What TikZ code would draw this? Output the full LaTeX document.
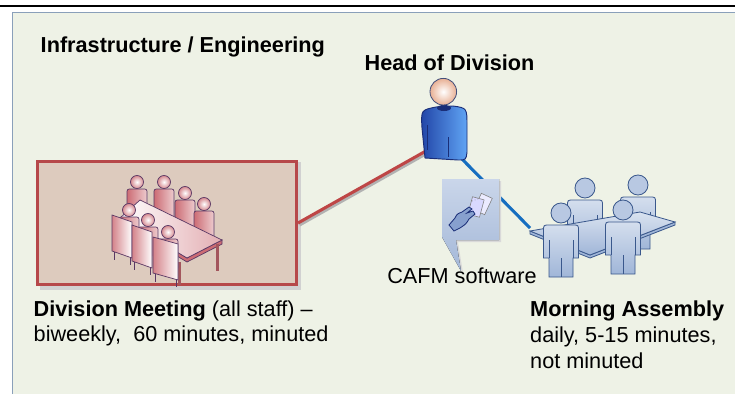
\documentclass[tikz,border=0pt]{standalone}
\usepackage{fontspec}
\setmainfont{Liberation Sans}
\definecolor{panel}{RGB}{238,242,230}
\definecolor{panelrule}{RGB}{138,160,186}
\definecolor{meetred}{RGB}{182,72,74}
\definecolor{meetfill}{RGB}{221,203,190}
\definecolor{linkred}{RGB}{190,70,70}
\definecolor{linkblue}{RGB}{22,110,192}
\definecolor{staffblue}{RGB}{160,182,216}
\definecolor{staffline}{RGB}{58,88,140}
\definecolor{headdark}{RGB}{34,70,168}
\definecolor{headlight}{RGB}{96,164,244}
\definecolor{headline}{RGB}{26,46,120}
\definecolor{skin}{RGB}{232,176,148}
\definecolor{rosy}{RGB}{204,108,116}
\definecolor{rosyline}{RGB}{90,56,100}
\definecolor{tiptop}{RGB}{202,214,234}
\definecolor{tipbottom}{RGB}{164,184,216}

% standing staff member, head centre at (#1,#2)
\newcommand{\standing}[2]{%
  \begin{scope}[shift={(#1,#2)}]
    \draw[staffline,line width=0.7pt,top color=staffblue!45!white,bottom color=staffblue]
      (-12,64) -- (-12,45) -- (-17.5,45) -- (-17.5,18) .. controls (-17.5,12) .. (-11.5,12)
      -- (11.5,12) .. controls (17.5,12) .. (17.5,18) -- (17.5,45) -- (12,45) -- (12,64) -- cycle;
    \draw[staffline,line width=0.7pt] (0,45) -- (0,64) (-12,27) -- (-12,45) (12,27) -- (12,45);
    \draw[staffline,line width=0.7pt,fill=staffblue!75!white] (0,0) circle[radius=10];
  \end{scope}}

% seated person at the meeting table, head centre at (#1,#2)
\newcommand{\sitter}[2]{%
  \begin{scope}[shift={(#1,#2)}]
    \draw[rosyline,line width=0.6pt,left color=rosy,right color=rosy!35!white]
      (-10,36) -- (-10,12) .. controls (-10,7) .. (-5,7) -- (5,7) .. controls (10,7) .. (10,12) -- (10,36);
    \draw[rosyline,line width=0.6pt,inner color=white,outer color=rosy!80!white] (0,0) circle[radius=6.5];
  \end{scope}}

\begin{document}
\begin{tikzpicture}[x=0.03cm,y=-0.03cm,
  lbl/.style={font=\fontsize{18.5}{21.8}\selectfont,inner sep=0pt},
  link/.style={line width=2.6pt}]
  \useasboundingbox (0,0) rectangle (735,394);

  % page rule and panel
  \draw[line width=1.7pt] (0,5.7) -- (735,5.7);
  \fill[panel] (12,12) rectangle (735,394);
  \draw[panelrule,line width=1.3pt] (12.5,394) -- (12.5,12.5) -- (735,12.5);

  % division meeting box
  \fill[black!18] (40,162) rectangle (300.5,289.5);
  \node[draw=meetred,fill=meetfill,line width=2.6pt,minimum width=7.77cm,minimum height=3.69cm,inner sep=0pt] (divmeet) at (167,223) {};

  \coordinate (hodin) at (433,147);
  \coordinate (hodout) at (459,156);
  \coordinate (tablecorner) at (530,228);

  % reporting lines
  \draw[black!30,link] ([shift={(1.5,2)}]divmeet.east) -- ([shift={(1.5,2)}]hodin);
  \draw[linkred,link] (divmeet.east) -- (hodin);
  \draw[linkblue,link] (hodout) -- (tablecorner);

  % head of division
  \draw[headline,line width=0.8pt,left color=headdark,right color=headlight]
    (425,158) -- (422,128) .. controls (421,110) .. (436,107) -- (453,106)
    .. controls (467,108) .. (467,126) -- (467,152) .. controls (466,160) .. (458,160) -- cycle;
  \draw[headline,line width=0.8pt] (427.7,125) -- (427.7,150) (448.3,137) -- (448.3,157);
  \fill[headline] (444,108) ellipse (7 and 3);
  \draw[headline!60!gray,line width=0.7pt,inner color=white,outer color=skin] (443.3,91.7) circle[radius=13.3];

  % meeting table with staff
  \sitter{137}{182}
  \sitter{164}{182}
  \sitter{185}{193}
  \sitter{204}{204}
  \draw[rosyline,line width=0.6pt,fill=rosy] (120,218) -- (187,258) -- (222,240) -- (222,244) -- (187,262) -- (120,222) -- cycle;
  \draw[rosyline,line width=0.6pt,left color=white,right color=rosy!55!white] (140,200) -- (222,240) -- (187,258) -- (120,218) -- cycle;
  \fill[rosy!80!black] (216,244) rectangle (219,271);
  \fill[rosy!80!black] (178,262) rectangle (181,285);
  \sitter{129}{210}
  \sitter{148}{220}
  \sitter{168}{232}
  \foreach \cx/\cy/\cw/\ch in {112/215/20/36,132/225/20/36,153/237/25/36}{
    \draw[rosyline,line width=0.6pt] (\cx+2,\cy+\ch) -- (\cx+2,\cy+\ch+9) (\cx+\cw-2,\cy+\ch+6) -- (\cx+\cw-2,\cy+\ch+14);
    \draw[rosyline,line width=0.6pt,left color=rosy!85!white,right color=white]
      (\cx,\cy) -- (\cx+\cw,\cy+7) -- (\cx+\cw,\cy+7+\ch) -- (\cx,\cy+\ch) -- cycle;
  }

  % CAFM callout
  \fill[black!15] (444,181) -- (501,181) -- (501,242) -- (458,242) -- (463,273) -- (444,239) -- cycle;
  \fill[top color=tiptop,bottom color=tipbottom] (442,179) -- (499,179) -- (499,240) -- (456,240) -- (461,271) -- (442,237) -- cycle;
  \draw[black!50,line width=0.5pt,fill=white!92!blue,rotate around={-25:(483,204)}] (477,195) rectangle (489,213);
  \draw[black!50,line width=0.5pt,fill=white!85!blue,rotate around={-15:(476,207)}] (470,198) rectangle (482,216);
  \draw[black!60,line width=0.5pt,dotted] (472,201) -- (478,199);
  \draw[headline,line width=0.7pt,fill=staffblue!80!headdark]
    (449,225) -- (455,218) .. controls (457,214) .. (462,212) -- (469,207) -- (472,209) -- (467,213)
    -- (473,211) -- (475,214) -- (469,219) .. controls (466,224) .. (460,228) -- (454,231) -- cycle;

  % morning assembly
  \standing{585}{188}
  \standing{638}{185}
  \draw[staffline,line width=0.7pt,fill=staffblue] (530,231) -- (590,255) -- (675,222) -- (675,225) -- (590,258) -- (530,234) -- cycle;
  \draw[staffline,line width=0.7pt,top color=staffblue!40!white,bottom color=staffblue] (530,231) -- (640,212) -- (675,222) -- (590,255) -- cycle;
  \standing{561}{213}
  \standing{623}{210}

  % labels (multi-line nodes sit on the baseline of their last line)
  \node[lbl,anchor=base west] (title) at (40.5,52.7) {\bfseries Infrastructure / Engineering};
  \node[lbl,anchor=base] (hodlabel) at (449.5,70) {\bfseries Head of Division};
  \node[lbl,anchor=base] (cafm) at (462,283.5) {CAFM software};
  \node[lbl,anchor=base west,align=left] (meetlabel) at (33.5,341.7)
    {\textbf{Division Meeting} (all staff) --\\biweekly,~ 60 minutes, minuted};
  \node[lbl,anchor=base west,align=left] (assemblylabel) at (530,368)
    {\textbf{Morning Assembly}\\daily, 5-15 minutes,\\not minuted};
\end{tikzpicture}
\end{document}
